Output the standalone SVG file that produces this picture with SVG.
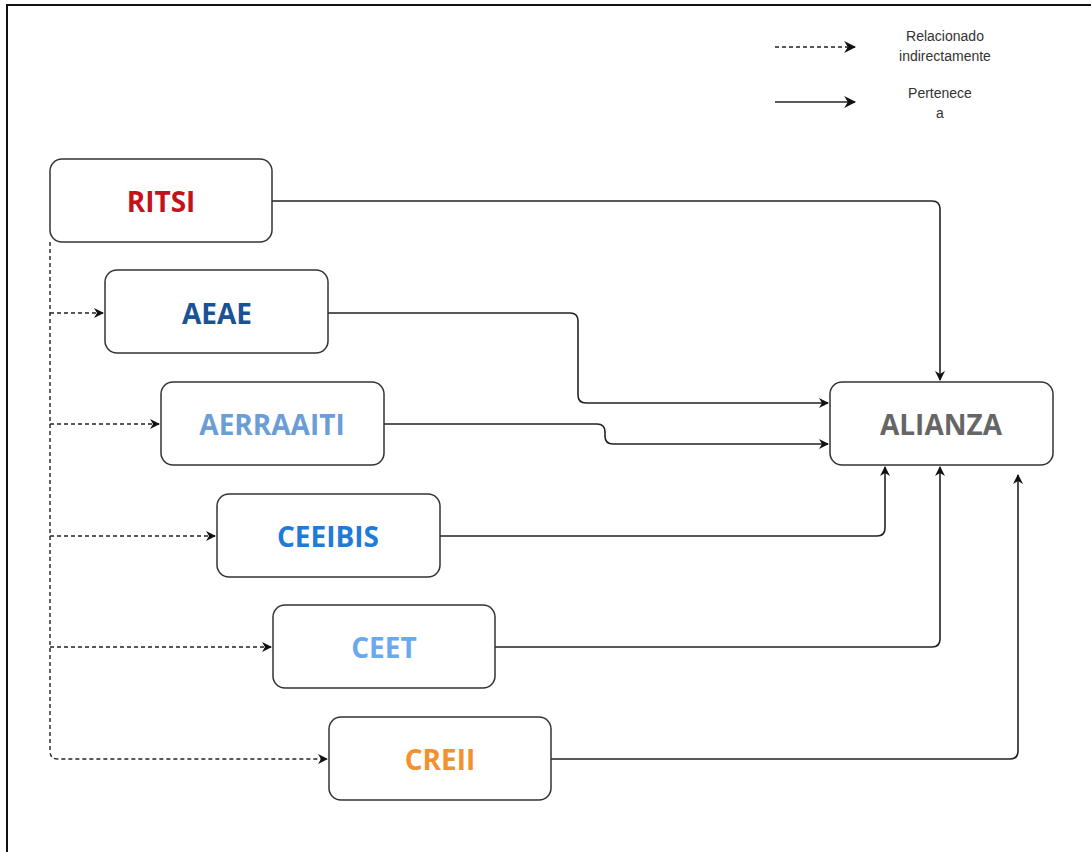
<svg xmlns="http://www.w3.org/2000/svg" width="1091" height="852" viewBox="0 0 1091 852">
<style>
.box{fill:#fff;stroke:#333;stroke-width:1.5}
.lbl{font-family:"Open Sans","Liberation Sans",sans-serif;font-weight:700;font-size:28px;text-anchor:middle;dominant-baseline:central}
.leg{font-family:"Liberation Sans",Arial,sans-serif;font-size:14px;fill:#333;text-anchor:middle}
.c{fill:none;stroke:#222;stroke-width:1.6}
.d{fill:none;stroke:#222;stroke-width:1.4;stroke-dasharray:4 3}
</style>
<defs>
<marker id="ah" viewBox="0 0 10 10" refX="9" refY="5" markerWidth="10" markerHeight="10" markerUnits="userSpaceOnUse" orient="auto">
<path d="M0,0 L10,5 L0,10 L3,5 Z" fill="#111"/>
</marker>
<marker id="ahl" viewBox="0 0 10 10" refX="9" refY="5" markerWidth="12" markerHeight="12" markerUnits="userSpaceOnUse" orient="auto">
<path d="M0,0 L10,5 L0,10 L3,5 Z" fill="#111"/>
</marker>
</defs>
<rect width="1091" height="852" fill="#fff"/>
<path d="M7,852 V5 H1091" fill="none" stroke="#111" stroke-width="2"/>
<g id="legend">
<line x1="775" y1="47" x2="855" y2="47" class="d" marker-end="url(#ahl)"/>
<line x1="775" y1="102" x2="855" y2="102" class="c" marker-end="url(#ahl)"/>
<text class="leg" x="945" y="41">Relacionado</text>
<text class="leg" x="945" y="61">indirectamente</text>
<text class="leg" x="940" y="98">Pertenece</text>
<text class="leg" x="940" y="118">a</text>
</g>
<g id="connectors">
<path class="c" d="M272,201 H932 Q940,201 940,209 V380" marker-end="url(#ah)"/>
<path class="c" d="M328,313 H570 Q578,313 578,321 V395 Q578,403 586,403 H828" marker-end="url(#ah)"/>
<path class="c" d="M384,424 H597 Q605,424 605,432 V436 Q605,444 613,444 H828" marker-end="url(#ah)"/>
<path class="c" d="M440,536 H877 Q885,536 885,528 V467" marker-end="url(#ah)"/>
<path class="c" d="M495,647 H932 Q940,647 940,639 V467" marker-end="url(#ah)"/>
<path class="c" d="M551,759 H1010 Q1018,759 1018,751 V475" marker-end="url(#ah)"/>
<path class="d" d="M50,242 V751 Q50,759 58,759 H327" marker-end="url(#ah)"/>
<path class="d" d="M50,313 H103" marker-end="url(#ah)"/>
<path class="d" d="M50,424 H159" marker-end="url(#ah)"/>
<path class="d" d="M50,536 H215" marker-end="url(#ah)"/>
<path class="d" d="M50,647 H271" marker-end="url(#ah)"/>
</g>
<g id="RITSI"><rect class="box" x="50" y="159" width="222" height="83" rx="12"/><text class="lbl" x="161" y="201" fill="#c4121c">RITSI</text></g>
<g id="AEAE"><rect class="box" x="105" y="270" width="223" height="83" rx="12"/><text class="lbl" x="217" y="313" fill="#1a5296">AEAE</text></g>
<g id="AERRAAITI"><rect class="box" x="161" y="382" width="223" height="83" rx="12"/><text class="lbl" x="272" y="424" fill="#6b9ed6">AERRAAITI</text></g>
<g id="CEEIBIS"><rect class="box" x="217" y="494" width="223" height="83" rx="12"/><text class="lbl" x="328" y="536" fill="#1f7ad8">CEEIBIS</text></g>
<g id="CEET"><rect class="box" x="273" y="605" width="222" height="83" rx="12"/><text class="lbl" x="384" y="647" fill="#6aa9ee">CEET</text></g>
<g id="CREII"><rect class="box" x="329" y="717" width="222" height="83" rx="12"/><text class="lbl" x="440" y="759" fill="#f2922e">CREII</text></g>
<g id="ALIANZA"><rect class="box" x="830" y="382" width="223" height="83" rx="12"/><text class="lbl" x="941" y="424" fill="#666">ALIANZA</text></g>
</svg>
